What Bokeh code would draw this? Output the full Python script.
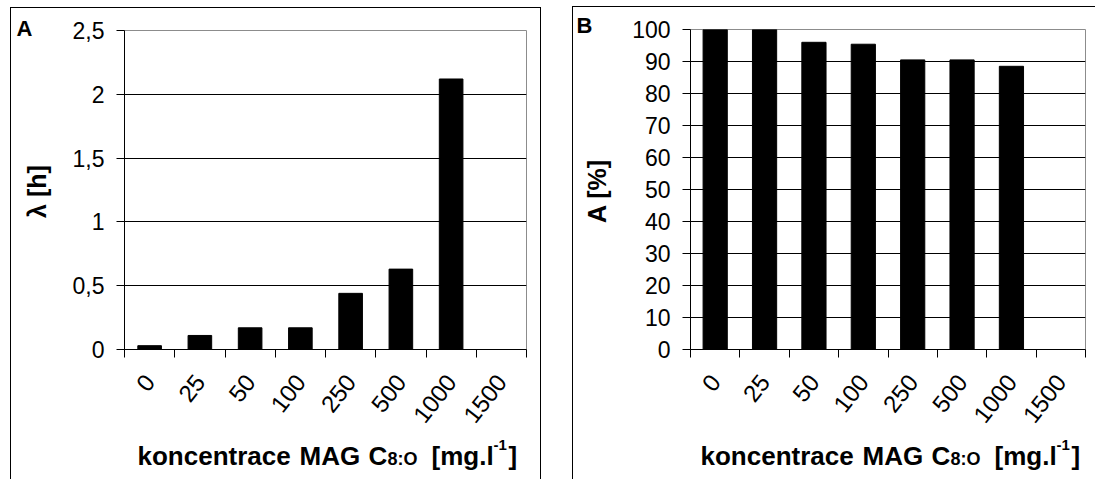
from math import radians
from bokeh.plotting import figure
from bokeh.models import FixedTicker, Label, Range1d
from bokeh.layouts import row
from bokeh.embed import file_html
from bokeh.resources import INLINE

# ---- data ----
categories = ["0", "25", "50", "100", "250", "500", "1000", "1500"]
lag_values = [0.03, 0.11, 0.17, 0.17, 0.44, 0.63, 2.12]          # panel A, lambda [h]
activity_values = [100, 100, 96, 95.4, 90.5, 90.5, 88.5]        # panel B, A [%]
lag_ticks = [0, 0.5, 1, 1.5, 2, 2.5]
lag_tick_labels = ["0", "0,5", "1", "1,5", "2", "2,5"]
act_ticks = [0, 10, 20, 30, 40, 50, 60, 70, 80, 90, 100]
act_tick_labels = ["0", "10", "20", "30", "40", "50", "60", "70", "80", "90", "100"]

FONT = "Liberation Sans"
BASELINE_FIX = -10   # measured offset of Bokeh's alphabetic baseline in this renderer


def make_panel(letter, values, ticks, tick_labels, ymax, ylabel, bar_w,
               fig_w, margin, styles, border, frame, origin, letter_px, ylab_cx):
    fl, ft, fw, fh = frame          # frame left/top/width/height in window px
    ox, oy = origin                 # window position of canvas origin
    ncat = len(categories)
    p = figure(width=fig_w, frame_height=fh, output_backend="svg", toolbar_location=None,
               x_range=Range1d(0, ncat), y_range=Range1d(0, ymax),
               min_border_left=border[0], min_border_right=border[1],
               min_border_top=border[2], min_border_bottom=border[3],
               margin=margin)
    p.styles = styles
    p.background_fill_color = "white"
    p.border_fill_color = "white"
    p.outline_line_color = "#8c8c8c"
    p.outline_line_width = 1

    xs = [i + 0.5 for i in range(len(values))]
    p.vbar(x=xs, top=values, bottom=0, width=bar_w, fill_color="black", line_color="black")

    centers = [i + 0.5 for i in range(ncat)]
    bounds = [float(i) for i in range(ncat + 1)]
    xa = p.xaxis[0]
    xa.ticker = FixedTicker(ticks=centers, minor_ticks=bounds)
    xa.major_label_overrides = {c: lab for c, lab in zip(centers, categories)}
    xa.major_tick_out = 0
    xa.major_tick_in = 0
    xa.minor_tick_out = 8
    xa.minor_tick_in = 0
    xa.minor_tick_line_color = "black"
    xa.axis_line_color = "black"
    xa.major_label_orientation = radians(52)
    xa.major_label_text_font = FONT
    xa.major_label_text_font_size = "24px"
    xa.major_label_text_color = "black"
    xa.major_label_standoff = 20

    ya = p.yaxis[0]
    ya.ticker = FixedTicker(ticks=ticks, minor_ticks=[])
    ya.major_label_overrides = {t: lab for t, lab in zip(ticks, tick_labels)}
    ya.major_tick_out = 8
    ya.major_tick_in = 0
    ya.major_tick_line_color = "black"
    ya.axis_line_color = "black"
    ya.major_label_text_font = FONT
    ya.major_label_text_font_size = "23px"
    ya.major_label_text_color = "black"
    ya.major_label_standoff = 12

    p.xgrid.visible = False
    p.ygrid.ticker = FixedTicker(ticks=ticks[1:-1], minor_ticks=[])
    p.ygrid.grid_line_color = "black"
    p.ygrid.grid_line_width = 1

    # free texts, placed in canvas pixels inside the lower side panel (not clipped)
    def lab(px, py, text, size, align="left", baseline="alphabetic", angle=0.0):
        p.add_layout(Label(x=px - ox, y=py - oy, x_units="canvas", y_units="canvas",
                           text=text, angle=angle,
                           text_font=FONT, text_font_style="bold", text_font_size=size,
                           text_align=align, text_baseline=baseline, text_color="black"),
                     "below")

    lab(letter_px[0], letter_px[1] + BASELINE_FIX, letter, "22px")
    lab(ylab_cx, ft + fh / 2 + 1, ylabel, "25px", align="center", baseline="middle",
        angle=radians(90))

    fc = fl + fw / 2
    base = 464 + BASELINE_FIX
    pieces = [
        ("koncentrace", -188, base, "26px"),
        ("MAG", -26, base, "26px"),
        ("C", 43, base, "26px"),
        ("8:O", 62, base + 3, "18px"),
        ("[mg.l", 106, base, "26px"),
        ("-1", 168, base - 11, "15px"),
        ("]", 183, base, "26px"),
    ]
    for txt, dx, by, fs in pieces:
        lab(fc + dx, by, txt, fs)
    return p


pA = make_panel("A", lag_values, lag_ticks, lag_tick_labels, 2.5, "λ [h]", 0.47,
                fig_w=531, margin=(7, 0, 0, 10),
                styles={"border-top": "1px solid black", "border-left": "1px solid black",
                        "border-right": "1px solid black"},
                border=(113, 16, 22, 131),
                frame=(124, 30, 400, 318), origin=(11, 8), letter_px=(15, 37), ylab_cx=35)

pB = make_panel("B", activity_values, act_ticks, act_tick_labels, 100, "A [%]", 0.49,
                fig_w=523, margin=(6, 0, 0, 31),
                styles={"border-top": "1px solid black", "border-left": "1px solid black"},
                border=(117, 11, 22, 131),
                frame=(690, 29, 394, 319), origin=(573, 7), letter_px=(575, 34), ylab_cx=595)

layout = row(pA, pB)
open("out.html", "w").write(file_html(layout, INLINE))
